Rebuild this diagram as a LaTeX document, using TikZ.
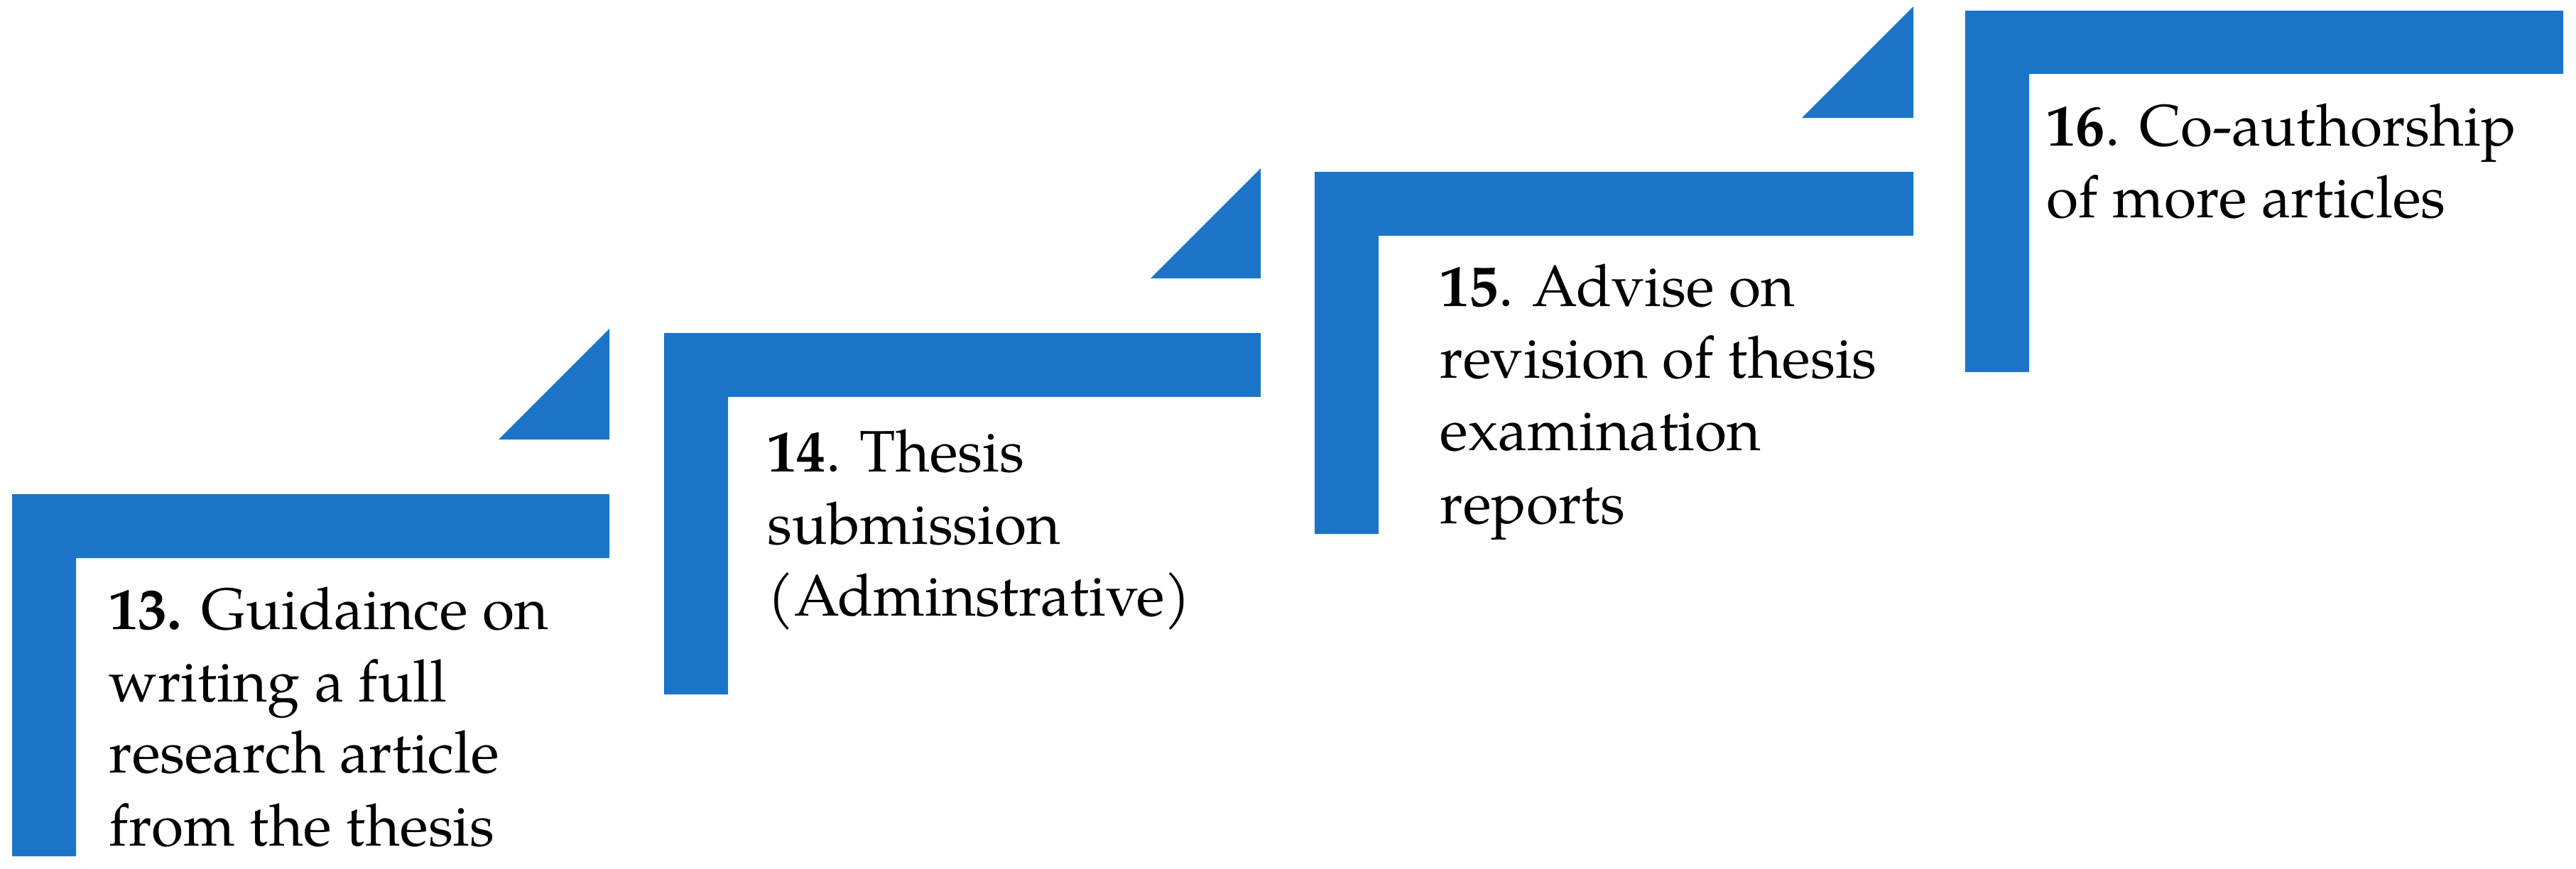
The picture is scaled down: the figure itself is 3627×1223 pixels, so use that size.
\documentclass[tikz,border=0pt]{standalone}
\usepackage{fontspec}
\setmainfont{TeX Gyre Pagella}
\definecolor{stepblue}{RGB}{27,116,200}
\begin{document}
\begin{tikzpicture}[x=0.01cm,y=-0.01cm,
  bar/.style={fill=stepblue,draw=none},
  lbl/.style={anchor=base west,inner sep=0pt,font=\fontsize{23.4}{28.7}\selectfont}]
\useasboundingbox (0,0) rectangle (3627,1223);
% step 13
\fill[bar] (17,1206) -- (17,696) -- (858,696) -- (858,786) -- (107,786) -- (107,1206) -- cycle;
\fill[bar] (702,619) -- (858,619) -- (858,463) -- cycle;
% step 14
\fill[bar] (935,978) -- (935,469) -- (1775,469) -- (1775,559) -- (1025,559) -- (1025,978) -- cycle;
\fill[bar] (1620,392) -- (1775,392) -- (1775,237) -- cycle;
% step 15
\fill[bar] (1851,752) -- (1851,242) -- (2694,242) -- (2694,332) -- (1941,332) -- (1941,752) -- cycle;
\fill[bar] (2537,166) -- (2694,166) -- (2694,9) -- cycle;
% step 16
\fill[bar] (2767,524) -- (2767,15) -- (3609,15) -- (3609,104) -- (2857,104) -- (2857,524) -- cycle;
% labels
\node[lbl] (t13a) at (153,886) {\textbf{13.} Guidaince on};
\node[lbl] (t13b) at (153,988) {writing a full};
\node[lbl] (t13c) at (153,1088) {research article};
\node[lbl] (t13d) at (153,1191) {from the thesis};
\node[lbl] (t14a) at (1080,664) {\textbf{14}. Thesis};
\node[lbl] (t14b) at (1080,766) {submission};
\node[lbl] (t14c) at (1080,867) {(Adminstrative)};
\node[lbl] (t15a) at (2027,431) {\textbf{15}. Advise on};
\node[lbl] (t15b) at (2027,532) {revision of thesis};
\node[lbl] (t15c) at (2027,634) {examination};
\node[lbl] (t15d) at (2027,737) {reports};
\node[lbl] (t16a) at (2881,205) {\textbf{16}. Co-authorship};
\node[lbl] (t16b) at (2881,306) {of more articles};
\end{tikzpicture}
\end{document}
